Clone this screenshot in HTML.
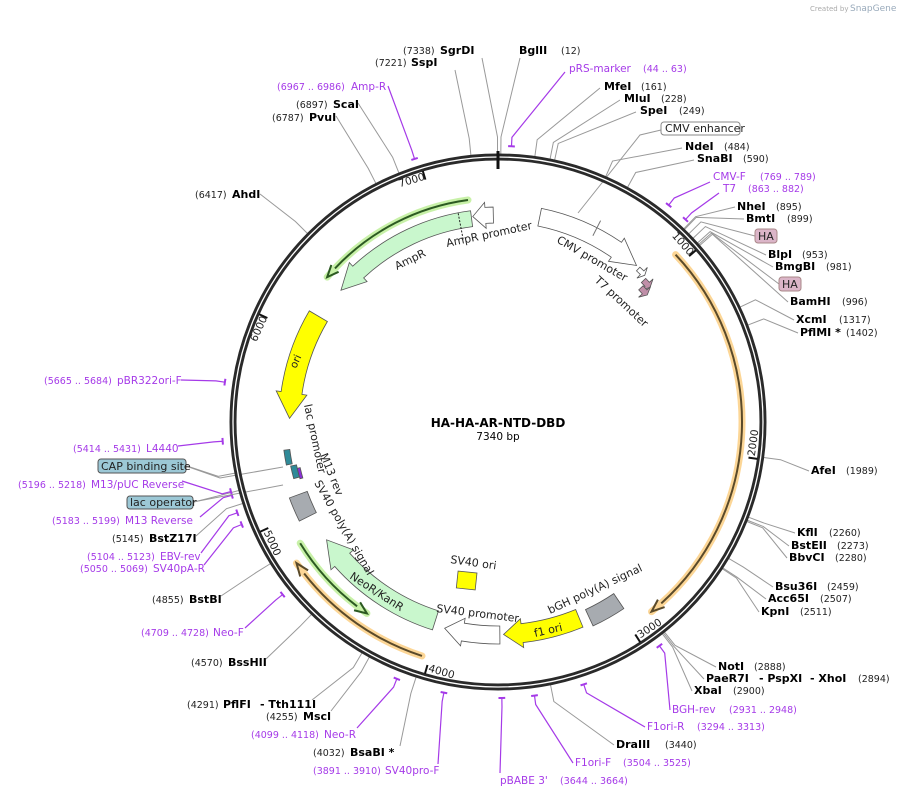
<!DOCTYPE html>
<html><head><meta charset="utf-8"><style>
html,body{margin:0;padding:0;background:#fff;}
svg{display:block;font-family:"DejaVu Sans","Liberation Sans",sans-serif;}
.n{font-size:9.5px;fill:#222;}
.b{font-size:11px;font-weight:bold;fill:#000;}
.p{font-size:10.5px;fill:#a53ae8;}
.pn{font-size:9.5px;fill:#a53ae8;}
.f{font-size:11px;fill:#222;}
</style></head><body>
<svg id="s" width="902" height="798" viewBox="0 0 902 798" xmlns="http://www.w3.org/2000/svg">
<g id="lines"></g>
<g id="ring"></g>
<g id="feats"></g>
<text x="810" y="11" font-size="7" fill="#aaa">Created by</text><text x="850" y="11" font-size="9" fill="#9ab">SnapGene</text>
<text x="498" y="427" text-anchor="middle" font-size="12" font-weight="bold">HA-HA-AR-NTD-DBD</text>
<text x="498" y="440" text-anchor="middle" font-size="10.5">7340 bp</text>

<text class="n" x="403" y="54">(7338)</text><text class="b" x="440" y="54">SgrDI</text>
<text class="n" x="375" y="66">(7221)</text><text class="b" x="411" y="66">SspI</text>
<text class="b" x="519" y="54">BglII</text><text class="n" x="561" y="54">(12)</text>
<text class="p" x="569" y="72">pRS-marker</text><text class="pn" x="643" y="72">(44 .. 63)</text>
<text class="b" x="604" y="90">MfeI</text><text class="n" x="641" y="90">(161)</text>
<text class="b" x="624" y="102">MluI</text><text class="n" x="661" y="102">(228)</text>
<text class="b" x="640" y="114">SpeI</text><text class="n" x="679" y="114">(249)</text>
<rect x="661" y="122" width="79" height="13" rx="3" fill="#fff" stroke="#888"/><text class="f" x="665" y="132" font-size="10.5">CMV enhancer</text>
<text class="b" x="685" y="150">NdeI</text><text class="n" x="724" y="150">(484)</text>
<text class="b" x="697" y="162">SnaBI</text><text class="n" x="743" y="162">(590)</text>
<text class="p" x="713" y="180">CMV-F</text><text class="pn" x="760" y="180">(769 .. 789)</text>
<text class="p" x="723" y="192">T7</text><text class="pn" x="748" y="192">(863 .. 882)</text>
<text class="b" x="737" y="210">NheI</text><text class="n" x="776" y="210">(895)</text>
<text class="b" x="746" y="222">BmtI</text><text class="n" x="787" y="222">(899)</text>
<rect x="755" y="229" width="22" height="14" rx="3" fill="#dbb5c8" stroke="#a88"/><text class="f" x="758" y="240">HA</text>
<text class="b" x="768" y="258">BlpI</text><text class="n" x="802" y="258">(953)</text>
<text class="b" x="775" y="270">BmgBI</text><text class="n" x="826" y="270">(981)</text>
<rect x="779" y="277" width="22" height="14" rx="3" fill="#dbb5c8" stroke="#a88"/><text class="f" x="782" y="288">HA</text>
<text class="b" x="790" y="305">BamHI</text><text class="n" x="842" y="305">(996)</text>
<text class="b" x="796" y="323">XcmI</text><text class="n" x="839" y="323">(1317)</text>
<text class="b" x="800" y="336">PflMI *</text><text class="n" x="846" y="336">(1402)</text>
<text class="b" x="811" y="474">AfeI</text><text class="n" x="846" y="474">(1989)</text>
<text class="b" x="797" y="536">KflI</text><text class="n" x="829" y="536">(2260)</text>
<text class="b" x="791" y="549">BstEII</text><text class="n" x="837" y="549">(2273)</text>
<text class="b" x="789" y="561">BbvCI</text><text class="n" x="835" y="561">(2280)</text>
<text class="b" x="775" y="590">Bsu36I</text><text class="n" x="827" y="590">(2459)</text>
<text class="b" x="768" y="602">Acc65I</text><text class="n" x="820" y="602">(2507)</text>
<text class="b" x="761" y="615">KpnI</text><text class="n" x="800" y="615">(2511)</text>
<text class="b" x="718" y="670">NotI</text><text class="n" x="754" y="670">(2888)</text>
<text class="b" x="706" y="682">PaeR7I</text><text class="b" x="759" y="682">- PspXI</text><text class="b" x="810" y="682">- XhoI</text><text class="n" x="858" y="682">(2894)</text>
<text class="b" x="694" y="694">XbaI</text><text class="n" x="733" y="694">(2900)</text>
<text class="p" x="672" y="713">BGH-rev</text><text class="pn" x="729" y="713">(2931 .. 2948)</text>
<text class="p" x="647" y="730">F1ori-R</text><text class="pn" x="697" y="730">(3294 .. 3313)</text>
<text class="b" x="616" y="748">DraIII</text><text class="n" x="665" y="748">(3440)</text>
<text class="p" x="575" y="766">F1ori-F</text><text class="pn" x="623" y="766">(3504 .. 3525)</text>
<text class="p" x="500" y="784">pBABE 3'</text><text class="pn" x="560" y="784">(3644 .. 3664)</text>
<text class="pn" x="313" y="774">(3891 .. 3910)</text><text class="p" x="385" y="774">SV40pro-F</text>
<text class="n" x="313" y="756">(4032)</text><text class="b" x="350" y="756">BsaBI *</text>
<text class="pn" x="251" y="738">(4099 .. 4118)</text><text class="p" x="324" y="738">Neo-R</text>
<text class="n" x="266" y="720">(4255)</text><text class="b" x="303" y="720">MscI</text>
<text class="n" x="187" y="708">(4291)</text><text class="b" x="223" y="708">PflFI</text><text class="b" x="260" y="708">- Tth111I</text>
<text class="n" x="191" y="666">(4570)</text><text class="b" x="228" y="666">BssHII</text>
<text class="pn" x="141" y="636">(4709 .. 4728)</text><text class="p" x="213" y="636">Neo-F</text>
<text class="n" x="152" y="603">(4855)</text><text class="b" x="189" y="603">BstBI</text>
<text class="pn" x="80" y="572">(5050 .. 5069)</text><text class="p" x="153" y="572">SV40pA-R</text>
<text class="pn" x="87" y="560">(5104 .. 5123)</text><text class="p" x="160" y="560">EBV-rev</text>
<text class="n" x="112" y="542">(5145)</text><text class="b" x="149" y="542">BstZ17I</text>
<text class="pn" x="52" y="524">(5183 .. 5199)</text><text class="p" x="125" y="524">M13 Reverse</text>
<rect x="127" y="496" width="66" height="13" rx="3" fill="#9cc8d6" stroke="#555"/><text class="f" x="130" y="506" font-size="10.5">lac operator</text>
<text class="pn" x="18" y="488">(5196 .. 5218)</text><text class="p" x="91" y="488">M13/pUC Reverse</text>
<rect x="98" y="459" width="88" height="14" rx="3" fill="#9cc8d6" stroke="#555"/><text class="f" x="101" y="470" font-size="10.5">CAP binding site</text>
<text class="pn" x="73" y="452">(5414 .. 5431)</text><text class="p" x="146" y="452">L4440</text>
<text class="pn" x="44" y="384">(5665 .. 5684)</text><text class="p" x="117" y="384">pBR322ori-F</text>
<text class="n" x="195" y="198">(6417)</text><text class="b" x="232" y="198">AhdI</text>
<text class="n" x="272" y="121">(6787)</text><text class="b" x="309" y="121">PvuI</text>
<text class="n" x="296" y="108">(6897)</text><text class="b" x="333" y="108">ScaI</text>
<text class="pn" x="277" y="90">(6967 .. 6986)</text><text class="p" x="351" y="90">Amp-R</text>

<g font-size="11" fill="#222">
<text transform="translate(447,247) rotate(-12)">AmpR promoter</text>
<text transform="translate(397,270) rotate(-26)">AmpR</text>
<text transform="translate(556,242) rotate(30)">CMV promoter</text>
<text transform="translate(594,281) rotate(43)">T7 promoter</text>
<text transform="translate(296,369) rotate(-66)" font-size="10.5">ori</text>
<text transform="translate(304,405) rotate(78)">lac promoter</text>
<text transform="translate(320,455) rotate(68)">M13 rev</text>
<text transform="translate(314,483) rotate(60)">SV40 poly(A) signal</text>
<text transform="translate(349,578) rotate(33)">NeoR/KanR</text>
<text transform="translate(450,563) rotate(8)">SV40 ori</text>
<text transform="translate(436,612) rotate(7)">SV40 promoter</text>
<text transform="translate(550,614) rotate(-25)">bGH poly(A) signal</text>
<text transform="translate(535,637) rotate(-13)">f1 ori</text>
</g>

<script>
var NS="http://www.w3.org/2000/svg",cx=498,cy=422;
function P(r,d){var a=d*Math.PI/180;return [cx+r*Math.sin(a),cy-r*Math.cos(a)];}
function el(g,t,at){var e=document.createElementNS(NS,t);for(var k in at)e.setAttribute(k,at[k]);document.getElementById(g).appendChild(e);return e;}
function arc(r,a1,a2){var p1=P(r,a1),p2=P(r,a2),sw=a2>a1?1:0,lg=Math.abs(a2-a1)>180?1:0;return "M"+p1+" A"+r+","+r+" 0 "+lg+","+sw+" "+p2;}
function arcTo(r,a1,a2){var p2=P(r,a2),sw=a2>a1?1:0,lg=Math.abs(a2-a1)>180?1:0;return " A"+r+","+r+" 0 "+lg+","+sw+" "+p2;}
el("ring","circle",{cx:cx,cy:cy,r:265,fill:"none",stroke:"#2a2a2a","stroke-width":7});
el("ring","circle",{cx:cx,cy:cy,r:265,fill:"none",stroke:"#fff","stroke-width":1.3});
var t0=P(253,0),t1=P(271,0);el("ring","line",{x1:t0[0],y1:t0[1],x2:t1[0],y2:t1[1],stroke:"#111","stroke-width":3});
for(var k=1;k<=7;k++){var d=k*1000/7340*360,a=P(253,d),b=P(262,d);el("ring","line",{x1:a[0],y1:a[1],x2:b[0],y2:b[1],stroke:"#111","stroke-width":2});
 var flip=d>90&&d<270,q=P(flip?259:253,d),t=el("ring","text",{x:0,y:0,"font-size":"10.5",fill:"#222","text-anchor":flip?"start":"end",transform:"translate("+q+") rotate("+(flip?d-180:d)+")"});
 if(flip)t.setAttribute("dx","2");t.textContent=String(k*1000);}
var L=[[482,58,359.9],[455,70,354.2],[520,58,0.6],[565,72,2.8,1],[600,88,7.9],[620,100,11.2],[636,112,12.2],[682,148,23.7],[694,160,28.9],[710,182,38.2,1],[719,193,42.8,1],[735,207,43.9],[744,219,44.1],[755,236,45.4],[766,255,46.7],[773,267,48.1],[779,284,48.5],[788,302,48.8],[794,320,64.6],[798,333,68.8],[809,471,97.6],[795,533,110.8],[789,546,111.5],[787,558,111.8],[773,587,120.6],[766,599,123],[759,612,123.2],[716,667,141.6],[704,679,141.9],[692,691,142.2],[670,710,144.2,1],[645,727,161.9,1],[614,745,168.7],[573,763,172.4,1],[500,773,179.2,1],[438,764,191.3,1],[400,746,197.8],[357,728,201.5,1],[331,711,208.7],[312,700,210.5],[266,659,224.1],[245,628,231.3,1],[221,596,238.1],[204,565,248.2,1],[201,553,250.8,1],[196,536,252.3],[200,517,254.6,1],[194,502,255.2],[182,481,255.4,1],[187,466,259],[178,446,266,1],[181,380,278.3,1],[260,194,314.7],[336,116,332.9],[358,103,338.3],[388,86,342.4,1]];
L.forEach(function(l){var c=l[3]?"#a53ae8":"#999",a=P(285,l[2]),b=P(l[3]?276:268,l[2]);
 el("lines","polyline",{points:l[0]+","+l[1]+" "+a+" "+b,fill:"none",stroke:c,"stroke-width":l[3]?1.2:1});
 if(l[3]){el("lines","path",{d:arc(276,l[2]-0.7,l[2]+0.7),fill:"none",stroke:c,"stroke-width":2});}});
el("lines","polyline",{points:"661,130 640,135 578,213",fill:"none",stroke:"#999"});
el("lines","polyline",{points:"186,466 220,478 283,467",fill:"none",stroke:"#999"});
el("lines","polyline",{points:"193,502 283,485",fill:"none",stroke:"#999"});
function feat(ri,ro,a1,a2,h,fill,st){var s=a2>a1?1:-1,ah=a2-s*h,rm=(ri+ro)/2,d;
 if(h>0){d=arc(ro,a1,ah)+" L"+P(ro+5,ah)+" L"+P(rm,a2)+" L"+P(ri-5,ah)+" L"+P(ri,ah)+arcTo(ri,ah,a1)+" Z";}
 else{d=arc(ro,a1,a2)+" L"+P(ri,a2)+arcTo(ri,a2,a1)+" Z";}
 el("feats","path",{d:d,fill:fill,stroke:st||"#555","stroke-width":0.8});}
function line(r,a1,a2,hl,col){var s=a2>a1?1:-1,ah=a2-s*3;
 el("feats","path",{d:arc(r,a1,a2),fill:"none",stroke:hl,"stroke-width":7,"stroke-linecap":"round","stroke-opacity":0.75});
 el("feats","path",{d:arc(r,a1,ah),fill:"none",stroke:col,"stroke-width":2});
 el("feats","path",{d:"M"+P(r-5,ah)+" L"+P(r,a2)+" L"+P(r+5,ah),fill:"none",stroke:col,"stroke-width":2});}
line(244,46.7,141,"#fbc873","#5a4a2a");
line(246,198,235,"#fbc873","#5a4a2a");
line(232,238.5,214.4,"#b5ec8b","#2c5a22");
line(224,352.3,310.3,"#b5ec8b","#2c5a22");
feat(197,213,352.6,310,7,"#c9f7cd");
feat(199,215,358.7,353,3.5,"#fff");
feat(200,218,11.5,41.5,7,"#fff");
feat(198,218,197.5,235.5,7,"#c9f7cd");
feat(204,222,179.5,194.5,5,"#fff");
feat(203,222,157.5,178.5,5,"#ffff00");
feat(207,225,146,155,0,"#a7abb0");
feat(198,219,300.5,271,7,"#ffff00");
feat(203,222,243.5,250,0,"#a7abb0");
feat(210,216,258.5,262.5,0,"#2f8a98");
feat(206,212,254.5,258,0,"#2f8a98");
feat(203,206,254,257,0,"#8a2fd4");
feat(205,210,42.5,45,1,"#fff");
feat(200,206,45.8,48.5,1.2,"#c08fa8");
feat(193,199,46.8,49.6,1.2,"#c08fa8");
var p=P(162,191);el("feats","rect",{x:p[0]-10,y:p[1]-9,width:19,height:17,fill:"#ffff00",stroke:"#555","stroke-width":0.8,transform:"rotate(6 "+p+")"});
var q1=P(186,349.2),q2=P(214,349.2);el("feats","line",{x1:q1[0],y1:q1[1],x2:q2[0],y2:q2[1],stroke:"#222","stroke-dasharray":"2,1.5"});
var m1=P(209,27),m2=P(226,27);el("feats","line",{x1:m1[0],y1:m1[1],x2:m2[0],y2:m2[1],stroke:"#777"});
</script>
</svg>
</body></html>
